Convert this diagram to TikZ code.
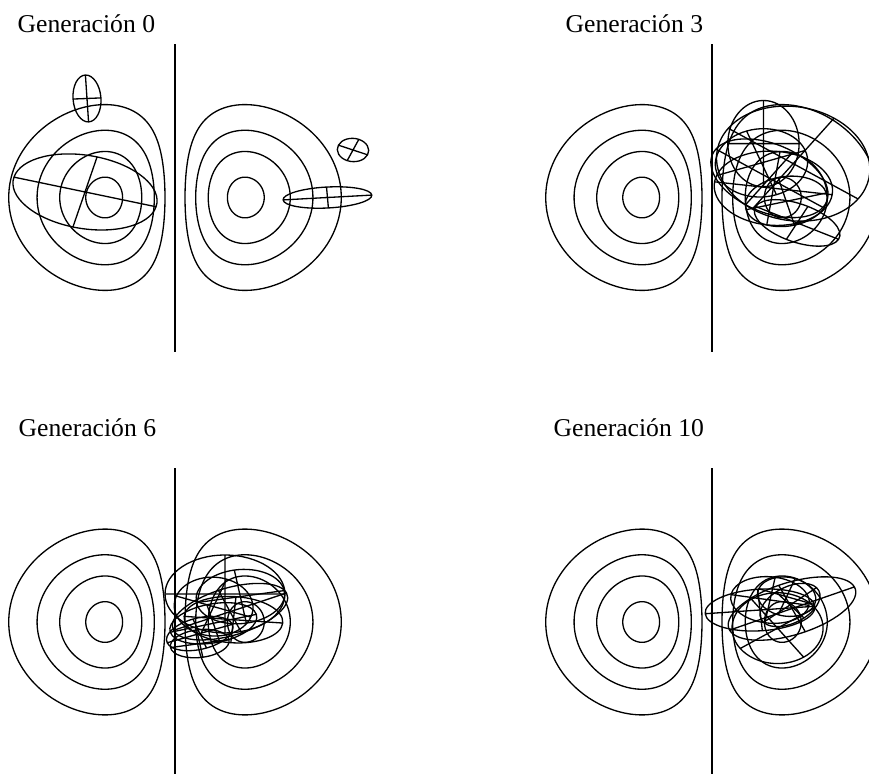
\documentclass[tikz,border=0pt]{standalone}
\usepackage{fontspec}
\setmainfont{Liberation Serif}
\usetikzlibrary{calc}

\begin{document}
\begin{tikzpicture}[x=0.02cm,y=0.02cm,line width=0.75pt,
    genlabel/.style={anchor=base west,inner sep=0pt,font=\fontsize{14.6}{17}\selectfont},
    panel/.style={shift={#1},xscale=99,yscale=77},
    indiv/.style={shift={#1}}]
  \useasboundingbox (0,0) rectangle (869,-774);

  \node[genlabel] (gen0)  at (17,-32)   {Generación 0};
  \node[genlabel] (gen3)  at (565,-32)  {Generación 3};
  \node[genlabel] (gen6)  at (18,-436)  {Generación 6};
  \node[genlabel] (gen10) at (553,-436) {Generación 10};

  % level curves of x*exp(-x^2-y^2) and the line x=0
  \foreach \ox/\oy in {175/-197.5,712/-197.5,175/-622,712/-622}{
    \begin{scope}[panel={(\ox,\oy)}]
      \draw (0,-2) -- (0,2);
      \foreach \lev/\xa/\xb in {0.1/0.10103/1.6796,0.2/0.20892/1.3932,0.3/0.33581/1.1646,0.4/0.5294/0.9014}
        \foreach \side in {1,-1}
          \draw plot[smooth cycle,domain=0:355,samples=72,variable=\tp]
            ({\side*(\xa+(\xb-\xa)*(1-cos(\tp))/2)},
             {sign(sin(\tp))*sqrt(max(0,ln((\xa+(\xb-\xa)*(1-cos(\tp))/2)/\lev)-((\xa+(\xb-\xa)*(1-cos(\tp))/2))^2))});
    \end{scope}
  }

  % generacion 0
  \begin{scope}[panel={(175,-197.5)}]
    \foreach \cu/\cv/\ra/\rb/\ang in {-0.889/1.286/0.141/0.305/3, -0.909/0.072/0.743/0.471/-15,
                                     1.798/0.617/0.16/0.15/-23, 1.540/0.0/0.449/0.136/4}
      \draw[indiv={(\cu,\cv)},rotate=\ang] (0,0) ellipse ({\ra} and {\rb}) (-\ra,0) -- (\ra,0) (0,-\rb) -- (0,\rb);
  \end{scope}

  % generacion 3
  \begin{scope}[panel={(712,-197.5)}]
    \foreach \cu/\cv/\ra/\rb/\ang in {0.52/0.70/0.36/0.56/0, 0.82/0.44/0.80/0.72/-35, 0.58/0.25/0.66/0.42/-35,
                                     0.86/-0.33/0.47/0.24/-27, 0.62/0.12/0.60/0.48/-8, 0.50/0.45/0.47/0.44/20,
                                     0.75/-0.05/0.42/0.32/15}
      \draw[indiv={(\cu,\cv)},rotate=\ang] (0,0) ellipse ({\ra} and {\rb}) (-\ra,0) -- (\ra,0) (0,-\rb) -- (0,\rb);
  \end{scope}

  % generacion 6
  \begin{scope}[panel={(175,-622)}]
    \foreach \cu/\cv/\ra/\rb/\ang in {0.505/0.364/0.606/0.506/0, 0.556/0.134/0.62/0.30/23, 0.387/-0.017/0.45/0.25/15,
                                     0.25/-0.15/0.35/0.20/20, 0.59/0.03/0.50/0.30/-5, 0.66/0.33/0.45/0.35/10,
                                     0.39/0.20/0.40/0.38/-20, 0.25/-0.28/0.30/0.18/10}
      \draw[indiv={(\cu,\cv)},rotate=\ang] (0,0) ellipse ({\ra} and {\rb}) (-\ra,0) -- (\ra,0) (0,-\rb) -- (0,\rb);
  \end{scope}

  % generacion 10
  \begin{scope}[panel={(712,-622)}]
    \foreach \cu/\cv/\ra/\rb/\ang in {0.485/0.156/0.556/0.27/5, 0.808/0.175/0.69/0.33/24, 0.662/-0.08/0.46/0.46/35,
                                     0.754/0.329/0.30/0.25/-20, 0.586/0.286/0.40/0.30/-10, 0.788/0.221/0.35/0.22/40}
      \draw[indiv={(\cu,\cv)},rotate=\ang] (0,0) ellipse ({\ra} and {\rb}) (-\ra,0) -- (\ra,0) (0,-\rb) -- (0,\rb);
  \end{scope}
\end{tikzpicture}
\end{document}
